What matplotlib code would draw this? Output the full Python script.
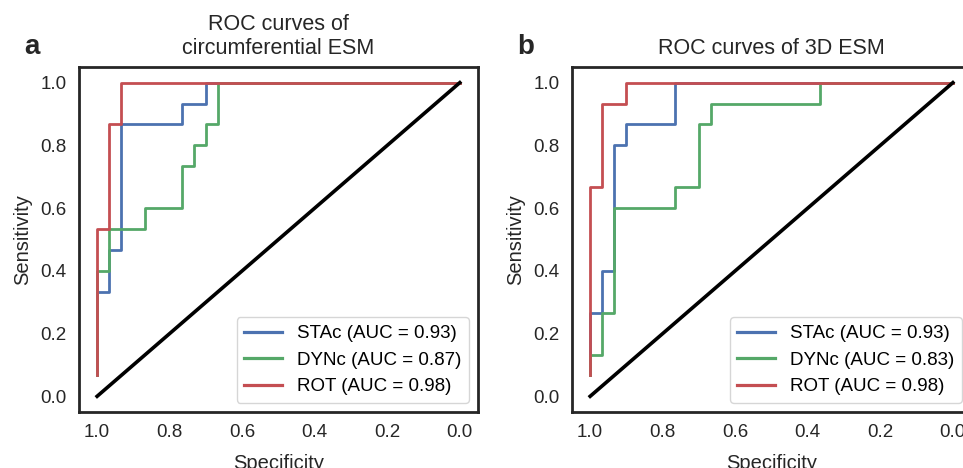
"""ROC curves for circumferential and 3D ESM"""

import matplotlib
matplotlib.use("Agg")
import matplotlib.pyplot as plt

plt.rcParams["font.family"] = ["Liberation Sans", "DejaVu Sans"]

# step corners: specificity (x) and sensitivity (y)
# panel a: circumferential ESM
a_stac_spec = [1.0, 1.0, 0.967, 0.967, 0.933, 0.933, 0.767, 0.767, 0.7, 0.7, 0.0]
a_stac_sens = [0.067, 0.333, 0.333, 0.467, 0.467, 0.867, 0.867, 0.933, 0.933, 1.0, 1.0]
a_dync_spec = [1.0, 1.0, 0.967, 0.967, 0.867, 0.867, 0.767, 0.767, 0.733, 0.733,
               0.7, 0.7, 0.667, 0.667, 0.0]
a_dync_sens = [0.067, 0.4, 0.4, 0.533, 0.533, 0.6, 0.6, 0.733, 0.733, 0.8,
               0.8, 0.867, 0.867, 1.0, 1.0]
a_rot_spec = [1.0, 1.0, 0.967, 0.967, 0.933, 0.933, 0.0]
a_rot_sens = [0.067, 0.533, 0.533, 0.867, 0.867, 1.0, 1.0]

# panel b: 3D ESM
b_stac_spec = [1.0, 1.0, 0.967, 0.967, 0.933, 0.933, 0.9, 0.9, 0.767, 0.767, 0.0]
b_stac_sens = [0.067, 0.267, 0.267, 0.4, 0.4, 0.8, 0.8, 0.867, 0.867, 1.0, 1.0]
b_dync_spec = [1.0, 1.0, 0.967, 0.967, 0.933, 0.933, 0.767, 0.767, 0.7, 0.7,
               0.667, 0.667, 0.367, 0.367, 0.0]
b_dync_sens = [0.067, 0.133, 0.133, 0.267, 0.267, 0.6, 0.6, 0.667, 0.667, 0.867,
               0.867, 0.933, 0.933, 1.0, 1.0]
b_rot_spec = [1.0, 1.0, 0.967, 0.967, 0.9, 0.9, 0.0]
b_rot_sens = [0.067, 0.667, 0.667, 0.933, 0.933, 1.0, 1.0]

a_auc = [0.93, 0.87, 0.98]
b_auc = [0.93, 0.83, 0.98]
names = ["STAc", "DYNc", "ROT"]
colors = ["#4C72B0", "#55A868", "#C44E52"]
titles = ["ROC curves of\ncircumferential ESM", "ROC curves of 3D ESM"]
letters = ["a", "b"]

panels = [
    ([(a_stac_spec, a_stac_sens), (a_dync_spec, a_dync_sens), (a_rot_spec, a_rot_sens)], a_auc),
    ([(b_stac_spec, b_stac_sens), (b_dync_spec, b_dync_sens), (b_rot_spec, b_rot_sens)], b_auc),
]

fig = plt.figure(figsize=(9.63, 4.68), dpi=100)
lefts = [0.082, 0.594]
dark = "#262626"

for i, (curves, aucs) in enumerate(panels):
    ax = fig.add_axes([lefts[i], 0.1197, 0.4143, 0.7372])
    for (spec, sens), name, auc, c in zip(curves, names, aucs, colors):
        ax.plot(spec, sens, color=c, lw=2.0, label=f"{name} (AUC = {auc:.2f})")
    ax.plot([1, 0], [0, 1], color="black", lw=2.6)

    ax.set_xlim(1.05, -0.05)
    ax.set_ylim(-0.05, 1.05)
    ax.set_xticks([1.0, 0.8, 0.6, 0.4, 0.2, 0.0])
    ax.set_yticks([0.0, 0.2, 0.4, 0.6, 0.8, 1.0])
    ax.tick_params(length=0, pad=9, labelsize=13.5, colors=dark)
    for s in ax.spines.values():
        s.set_linewidth(2.0)
        s.set_color(dark)
    ax.set_xlabel("Specificity", fontsize=14.5, color=dark, labelpad=9)
    ax.set_ylabel("Sensitivity", fontsize=14.5, color=dark, labelpad=6)
    ax.set_title(titles[i], fontsize=15.5, color=dark, pad=9)
    leg = ax.legend(loc="lower right", fontsize=13.5, fancybox=True, framealpha=0.8,
                    edgecolor="#cccccc", handlelength=2.0)
    for line in leg.get_lines():
        line.set_linewidth(2.3)
    fig.text(lefts[i] - 0.057, 0.885, letters[i], fontsize=20, fontweight="bold",
             color=dark, ha="left", va="baseline")

plt.savefig("out.png", dpi=100)
